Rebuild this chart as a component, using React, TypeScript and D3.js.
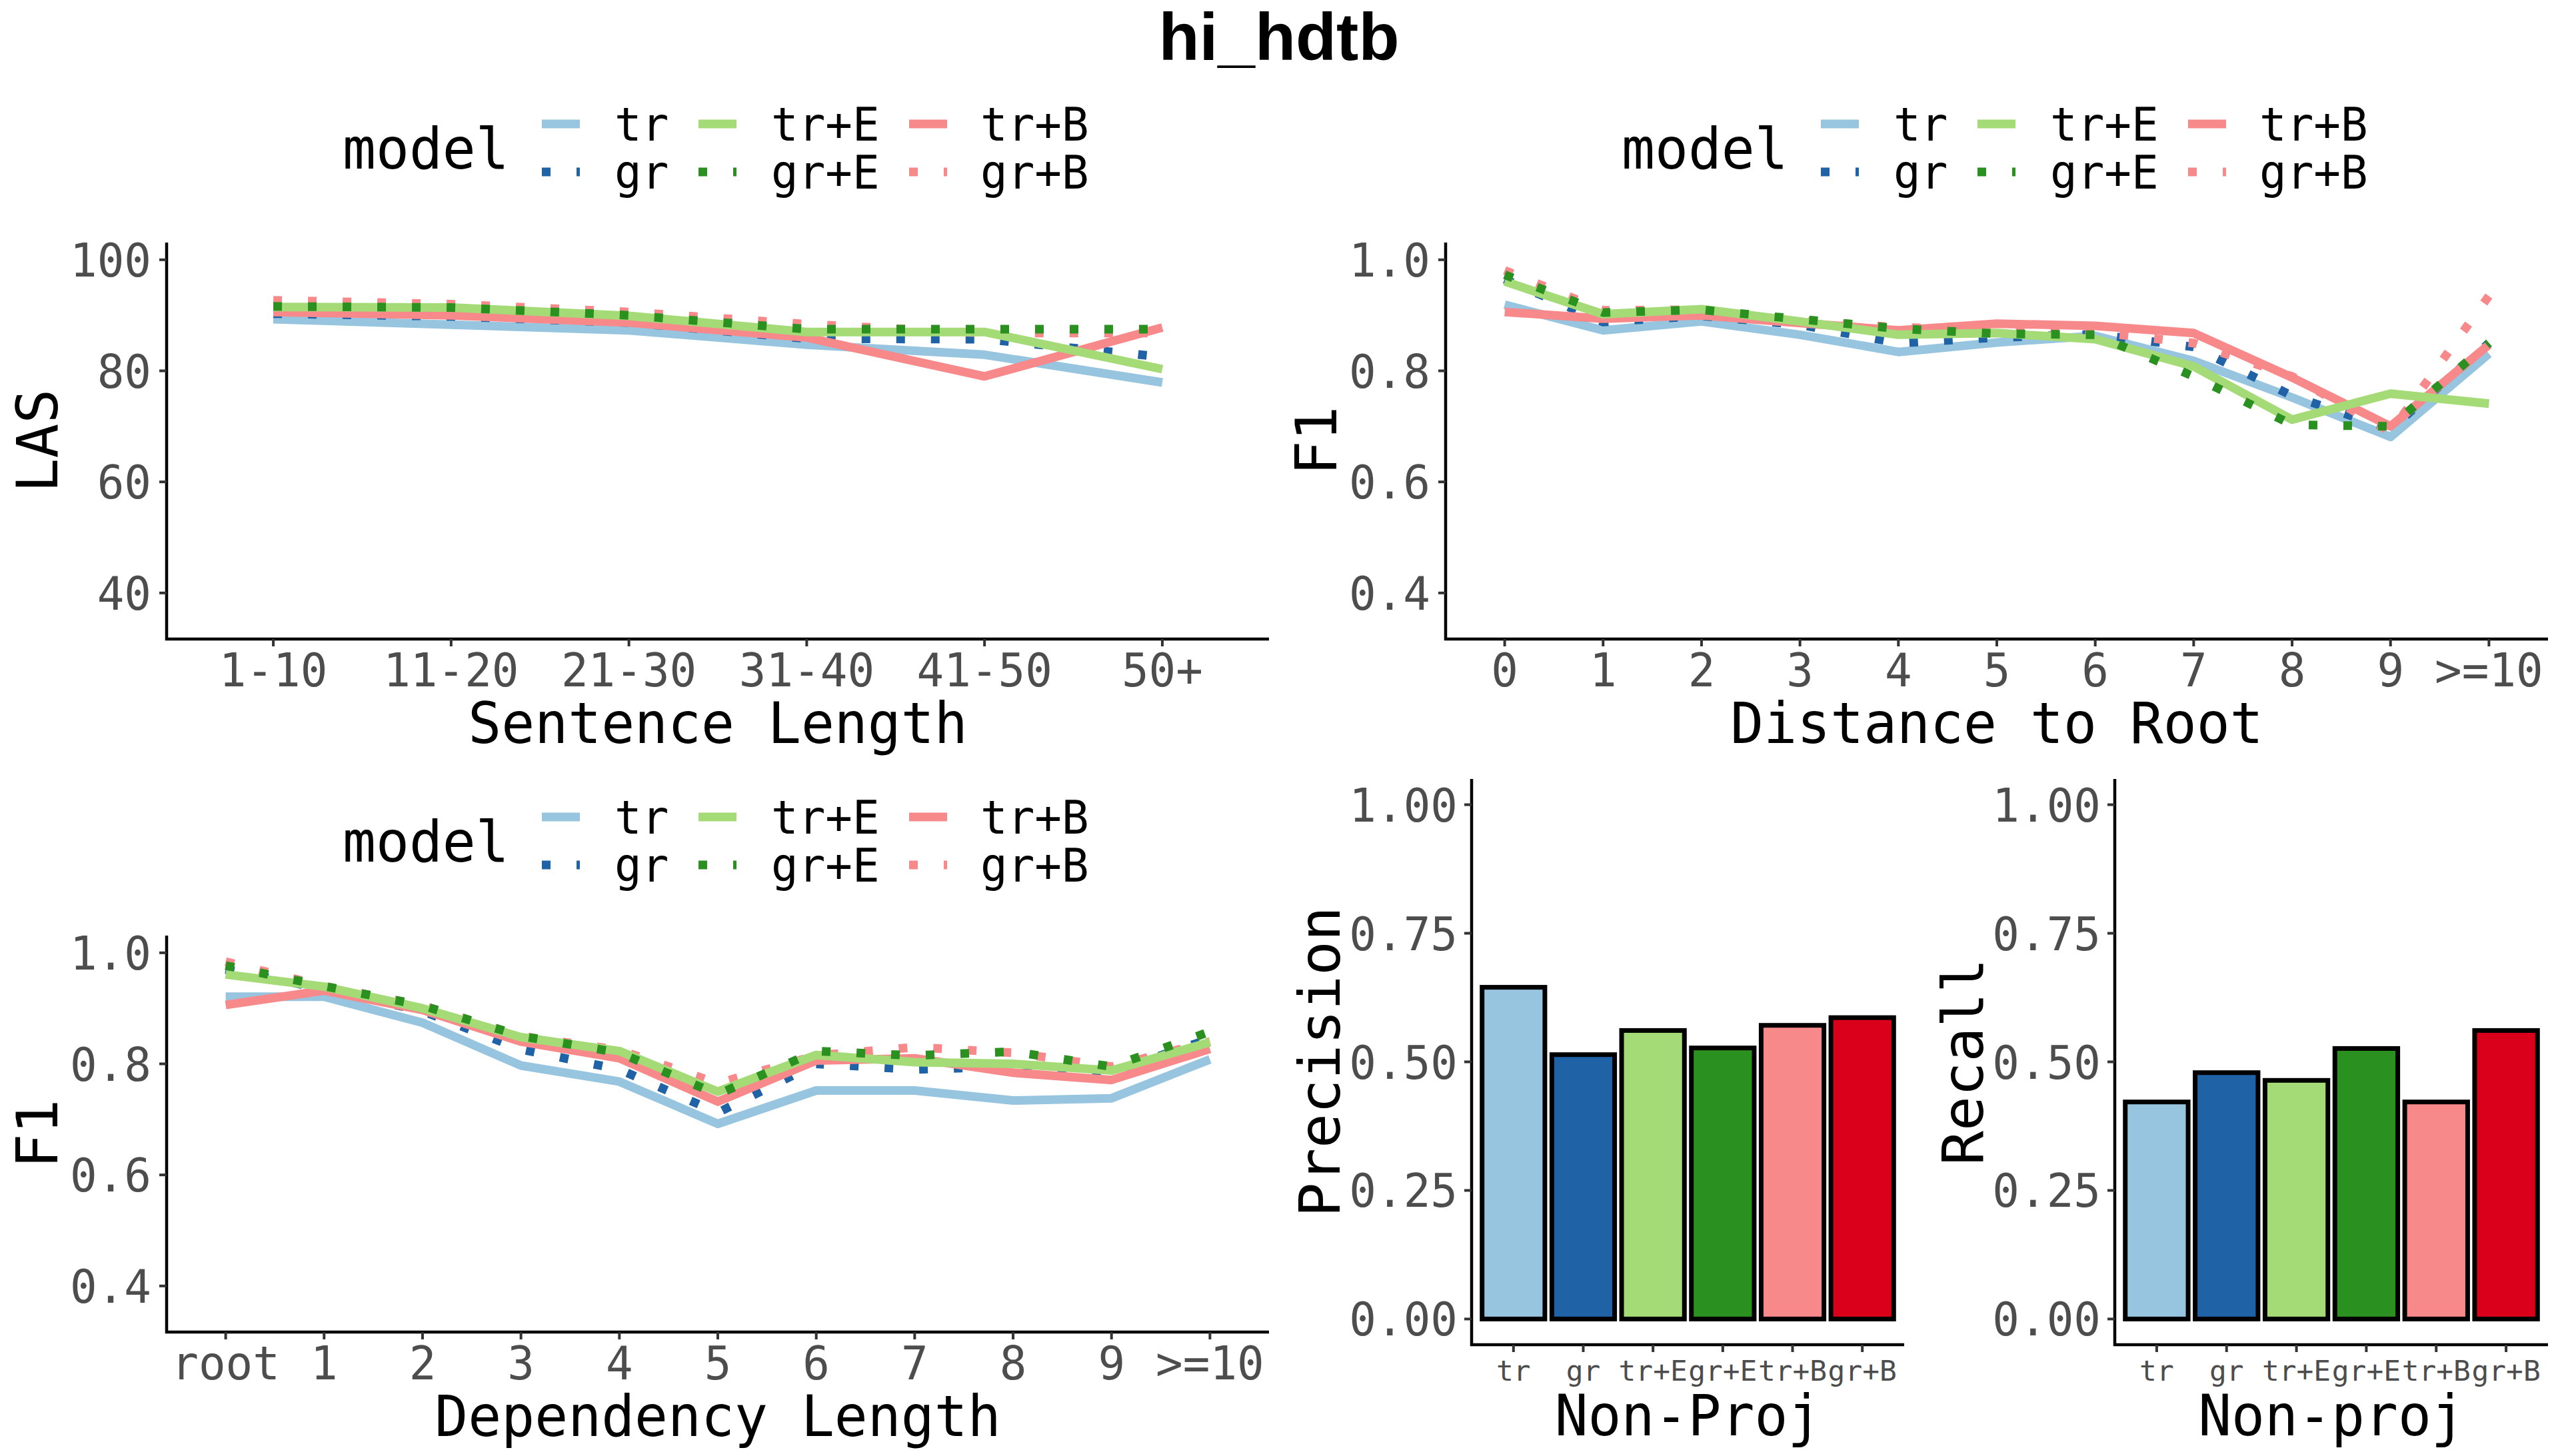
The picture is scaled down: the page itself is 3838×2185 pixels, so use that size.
import * as d3 from 'd3';

const W = 3838;
const H = 2185;

const models = ['tr', 'gr', 'tr+E', 'gr+E', 'tr+B', 'gr+B'];
const drawOrder = ['tr', 'gr', 'tr+B', 'gr+B', 'tr+E', 'gr+E'];
const dottedModels = ['gr', 'gr+E', 'gr+B'];

const lineColors: Record<string, string> = {
  'tr': '#97C4DF', 'gr': '#1F62A6', 'tr+E': '#A4DB77',
  'gr+E': '#2A9120', 'tr+B': '#F7898B', 'gr+B': '#F7898B'
};
const barColors = ['#97C4DF', '#1F62A6', '#A4DB77', '#2A9120', '#F7898B', '#DA001B'];

const sentCats = ['1-10', '11-20', '21-30', '31-40', '41-50', '50+'];
const distCats = ['0', '1', '2', '3', '4', '5', '6', '7', '8', '9', '>=10'];
const depCats = ['root', '1', '2', '3', '4', '5', '6', '7', '8', '9', '>=10'];

// LAS by sentence length
const lasByModel: Record<string, number[]> = {
  'tr':   [89.3, 88.3, 87.3, 84.7, 82.9, 77.9],
  'gr':   [90.3, 89.8, 88.7, 85.8, 85.7, 82.5],
  'tr+E': [91.5, 91.4, 89.9, 87.0, 87.0, 80.3],
  'gr+E': [91.6, 91.4, 90.0, 87.5, 87.5, 87.5],
  'tr+B': [90.6, 90.0, 88.7, 86.0, 79.0, 87.8],
  'gr+B': [92.7, 92.0, 90.6, 88.4, 86.8, 86.8]
};

// F1 by distance to root
const distByModel: Record<string, number[]> = {
  'tr':   [0.919, 0.873, 0.889, 0.865, 0.834, 0.851, 0.863, 0.818, 0.752, 0.681, 0.831],
  'gr':   [0.965, 0.888, 0.899, 0.883, 0.850, 0.860, 0.866, 0.843, 0.755, 0.695, 0.850],
  'tr+E': [0.961, 0.902, 0.911, 0.889, 0.865, 0.868, 0.857, 0.808, 0.712, 0.759, 0.741],
  'gr+E': [0.973, 0.905, 0.910, 0.893, 0.876, 0.867, 0.865, 0.790, 0.703, 0.700, 0.850],
  'tr+B': [0.906, 0.894, 0.900, 0.886, 0.873, 0.885, 0.881, 0.868, 0.788, 0.700, 0.847],
  'gr+B': [0.981, 0.909, 0.910, 0.890, 0.878, 0.875, 0.870, 0.850, 0.790, 0.690, 0.935]
};

// F1 by dependency length
const depByModel: Record<string, number[]> = {
  'tr':   [0.921, 0.921, 0.874, 0.797, 0.768, 0.692, 0.752, 0.752, 0.734, 0.738, 0.808],
  'gr':   [0.970, 0.935, 0.895, 0.826, 0.790, 0.712, 0.800, 0.790, 0.795, 0.785, 0.845],
  'tr+E': [0.961, 0.939, 0.900, 0.848, 0.823, 0.750, 0.816, 0.803, 0.800, 0.788, 0.839],
  'gr+E': [0.977, 0.940, 0.905, 0.850, 0.820, 0.745, 0.823, 0.815, 0.822, 0.795, 0.858],
  'tr+B': [0.906, 0.932, 0.897, 0.840, 0.810, 0.732, 0.806, 0.810, 0.784, 0.771, 0.827],
  'gr+B': [0.984, 0.940, 0.905, 0.850, 0.825, 0.765, 0.815, 0.830, 0.820, 0.795, 0.840]
};

const precision = [0.645, 0.514, 0.561, 0.527, 0.571, 0.586];
const recall = [0.422, 0.479, 0.464, 0.526, 0.422, 0.561];

const lasTicks = [40, 60, 80, 100];
const f1Ticks = [0.4, 0.6, 0.8, 1.0];
const barTicks = [0, 0.25, 0.5, 0.75, 1.0];

const MONO = '"DejaVu Sans Mono", monospace';
const TICK_FS = 70;
const TITLE_FS = 86;
const LW = 13;
const SQUEEZE = 0.965; // reference glyphs are a bit narrower than DejaVu's

// horizontal monospace text, squeezed a little to match the reference width
const T = ({ x, y, fs, anchor = 'start', fill = '#000', squeeze = SQUEEZE, children }:
  { x: number; y: number; fs: number; anchor?: string; fill?: string; squeeze?: number; children: string }) => (
  <text x={x} y={y} fontFamily={MONO} fontSize={fs} fill={fill} textAnchor={anchor}
    textLength={children.length * 0.602 * fs * squeeze} lengthAdjust="spacingAndGlyphs">
    {children}
  </text>
);

const Legend = ({ ox, oy }: { ox: number; oy: number }) => {
  const keyX = [813, 1048, 1364];
  const labX = [922, 1157, 1471];
  const rowY = [186, 258];
  return (
    <g transform={`translate(${ox},${oy})`}>
      <T x={514} y={253} fs={TITLE_FS}>model</T>
      {models.map((m, i) => {
        const col = Math.floor(i / 2);
        const row = i % 2;
        const dotted = dottedModels.includes(m);
        return (
          <g key={m}>
            <line x1={keyX[col]} x2={keyX[col] + 57} y1={rowY[row]} y2={rowY[row]}
              stroke={lineColors[m]} strokeWidth={LW}
              strokeDasharray={dotted ? '13 39' : undefined} />
            <T x={labX[col]} y={rowY[row] + 25} fs={TICK_FS}>{m}</T>
          </g>
        );
      })}
    </g>
  );
};

interface LinePanelProps {
  x0: number; x1: number; y0: number; y1: number;
  cats: string[];
  data: Record<string, number[]>;
  domain: [number, number];
  ticks: number[];
  tickFmt: (v: number) => string;
  xTitle: string;
  yTitle: string;
}

const LinePanel = ({ x0, x1, y0, y1, cats, data, domain, ticks, tickFmt, xTitle, yTitle }: LinePanelProps) => {
  const x = d3.scalePoint<string>().domain(cats).range([x0, x1]).padding(0.6);
  const y = d3.scaleLinear().domain(domain).range([y1, y0]);
  const line = d3.line<number>().x((_, i) => x(cats[i]) as number).y(d => y(d));
  const midY = (y0 + y1) / 2;
  return (
    <g>
      {drawOrder.map(m => (
        <path key={m} d={line(data[m]) || ''} fill="none" stroke={lineColors[m]}
          strokeWidth={LW} strokeLinejoin="round"
          strokeDasharray={dottedModels.includes(m) ? '13 39' : undefined} />
      ))}
      <line x1={x0} x2={x0} y1={y0} y2={y1 + 2} stroke="#000" strokeWidth={4.5} />
      <line x1={x0 - 2} x2={x1} y1={y1} y2={y1} stroke="#000" strokeWidth={4.5} />
      {ticks.map(t => (
        <g key={t}>
          <line x1={x0 - 11} x2={x0} y1={y(t)} y2={y(t)} stroke="#333" strokeWidth={4} />
          <T x={x0 - 23} y={y(t) + 25} anchor="end" fs={TICK_FS} fill="#4D4D4D">{tickFmt(t)}</T>
        </g>
      ))}
      {cats.map(c => (
        <g key={c}>
          <line x1={x(c)} x2={x(c)} y1={y1} y2={y1 + 11} stroke="#333" strokeWidth={4} />
          <T x={x(c) as number} y={y1 + 71} anchor="middle" fs={TICK_FS} fill="#4D4D4D">{c}</T>
        </g>
      ))}
      <T x={(x0 + x1) / 2} y={y1 + 156} anchor="middle" fs={TITLE_FS}>{xTitle}</T>
      <text transform={`translate(${x0 - 164},${midY}) rotate(-90)`} textAnchor="middle"
        fontFamily={MONO} fontSize={TITLE_FS}>{yTitle}</text>
    </g>
  );
};

interface BarPanelProps {
  x0: number; x1: number; y0: number; y1: number;
  values: number[];
  xTitle: string;
  yTitle: string;
}

const BarPanel = ({ x0, x1, y0, y1, values, xTitle, yTitle }: BarPanelProps) => {
  const x = d3.scalePoint<string>().domain(models).range([x0, x1]).padding(0.6);
  const y = d3.scaleLinear().domain([-0.05, 1.05]).range([y1, y0]);
  const bw = x.step() * 0.9;
  const midY = (y0 + y1) / 2;
  return (
    <g>
      {models.map((m, i) => (
        <rect key={m} x={(x(m) as number) - bw / 2} y={y(values[i])} width={bw}
          height={y(0) - y(values[i])} fill={barColors[i]} stroke="#000" strokeWidth={7} />
      ))}
      <line x1={x0} x2={x0} y1={y0} y2={y1 + 2} stroke="#000" strokeWidth={4.5} />
      <line x1={x0 - 2} x2={x1} y1={y1} y2={y1} stroke="#000" strokeWidth={4.5} />
      {barTicks.map(t => (
        <g key={t}>
          <line x1={x0 - 11} x2={x0} y1={y(t)} y2={y(t)} stroke="#333" strokeWidth={4} />
          <T x={x0 - 21} y={y(t) + 25} anchor="end" fs={TICK_FS} fill="#4D4D4D">{t.toFixed(2)}</T>
        </g>
      ))}
      {models.map(m => (
        <g key={m}>
          <line x1={x(m)} x2={x(m)} y1={y1} y2={y1 + 11} stroke="#333" strokeWidth={4} />
          <T x={x(m) as number} y={y1 + 54} anchor="middle" fs={42} squeeze={1.02}
            fill="#4D4D4D">{m}</T>
        </g>
      ))}
      <T x={(x0 + x1) / 2} y={y1 + 136} anchor="middle" fs={TITLE_FS}>{xTitle}</T>
      <text transform={`translate(${x0 - 198},${midY}) rotate(-90)`} textAnchor="middle"
        fontFamily={MONO} fontSize={TITLE_FS}>{yTitle}</text>
    </g>
  );
};

export default function App() {
  const f1Fmt = (v: number) => v.toFixed(1);
  return (
    <svg width={W} height={H} viewBox={`0 0 ${W} ${H}`}
      style={{ position: 'absolute', left: 0, top: 0, background: '#fff' }}>
      <rect width={W} height={H} fill="#fff" />
      <text x={W / 2} y={90} textAnchor="middle" fontFamily='"Liberation Sans", Arial, sans-serif'
        fontWeight="bold" fontSize={100}>hi_hdtb</text>

      <Legend ox={0} oy={0} />
      <LinePanel x0={250} x1={1904} y0={364} y1={959} cats={sentCats} data={lasByModel}
        domain={[31.7, 103.1]} ticks={lasTicks} tickFmt={v => String(v)}
        xTitle="Sentence Length" yTitle="LAS" />

      <Legend ox={1919} oy={0} />
      <LinePanel x0={2169} x1={3823} y0={364} y1={959} cats={distCats} data={distByModel}
        domain={[0.317, 1.031]} ticks={f1Ticks} tickFmt={f1Fmt}
        xTitle="Distance to Root" yTitle="F1" />

      <Legend ox={0} oy={1040} />
      <LinePanel x0={250} x1={1904} y0={1404} y1={1999} cats={depCats} data={depByModel}
        domain={[0.317, 1.031]} ticks={f1Ticks} tickFmt={f1Fmt}
        xTitle="Dependency Length" yTitle="F1" />

      <BarPanel x0={2208} x1={2857} y0={1169} y1={2018} values={precision}
        xTitle="Non-Proj" yTitle="Precision" />
      <BarPanel x0={3173} x1={3823} y0={1169} y1={2018} values={recall}
        xTitle="Non-proj" yTitle="Recall" />
    </svg>
  );
}
